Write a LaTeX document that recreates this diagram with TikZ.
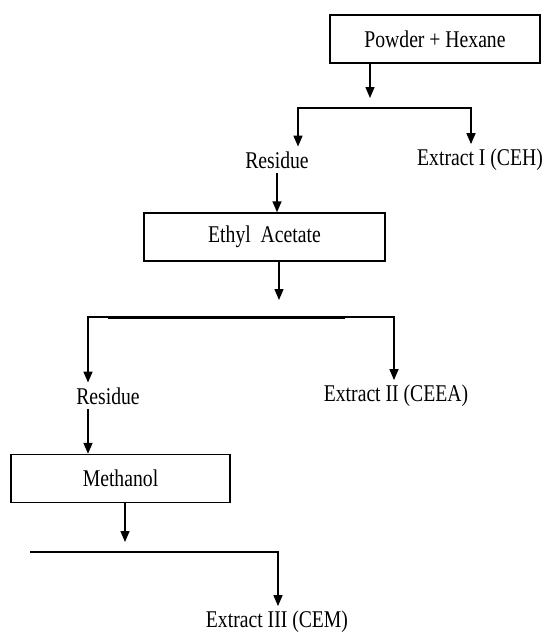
\documentclass[tikz,border=0pt]{standalone}
\usepackage{fontspec}
\setmainfont{Liberation Serif}[FakeStretch=0.82]
\usetikzlibrary{arrows.meta,positioning}

\tikzset{
  >={Triangle[length=11pt,width=9pt]},
  stage/.style={draw, line width=1.4pt, minimum height=48pt, inner sep=0pt},
  lbl/.style={inner sep=1pt, outer sep=4pt},
  link/.style={line width=1.4pt},
}

\begin{document}
\begin{tikzpicture}[x=1pt,y=-1pt,font=\fontsize{24}{28}\selectfont]
\useasboundingbox (0,0) rectangle (544,637);

% solvent boxes
\node[stage, minimum width=210pt] (hex) at (435,39) {Powder + Hexane};
\node[stage, minimum width=241pt] (eta) at (264.5,237) {Ethyl\ \ Acetate};
\node[stage, minimum width=219pt] (met) at (120.5,478.5) {Methanol};

% products
\node[lbl] (res1) at (277,160) {Residue};
\node[lbl] (ceh) at (480,160) {Extract I (CEH)};
\node[lbl] (res2) at (108,396) {Residue};
\node[lbl] (ceea) at (396,396) {Extract II (CEEA)};
\node[lbl] (cem) at (277,622) {Extract III (CEM)};

% fork points
\coordinate (f1) at (370,108);
\coordinate (f1l) at (298,108);
\coordinate (f1r) at (471,108);
\coordinate (f2) at (279,317);
\coordinate (f2l) at (88,317);
\coordinate (f2r) at (394,317);
\coordinate (f3) at (125,552);
\coordinate (f3l) at (30,552);
\coordinate (f3r) at (278,552);

% hexane step
\draw[link,->] (hex.south -| f1) -- ([yshift=10pt]f1);
\draw[link,<->] (f1l |- res1.north) -- (f1l) -- (f1r) -- (f1r |- ceh.north);
\draw[link,->] (res1.south) -- (res1.south |- eta.north);

% ethyl acetate step
\draw[link,->] (eta.south -| f2) -- ([yshift=17pt]f2);
\draw[link,<->] (f2l |- res2.north) -- (f2l) -- (f2r) -- (f2r |- ceea.north);
\draw[line width=3pt] ([xshift=20pt]f2l) -- ([xshift=-49pt]f2r);
\draw[link,->] (res2.south -| f2l) -- (f2l |- met.north);

% methanol step
\draw[link,->] (met.south -| f3) -- ([yshift=10pt]f3);
\draw[link,->] (f3l) -- (f3r) -- (f3r |- cem.north);
\end{tikzpicture}
\end{document}
